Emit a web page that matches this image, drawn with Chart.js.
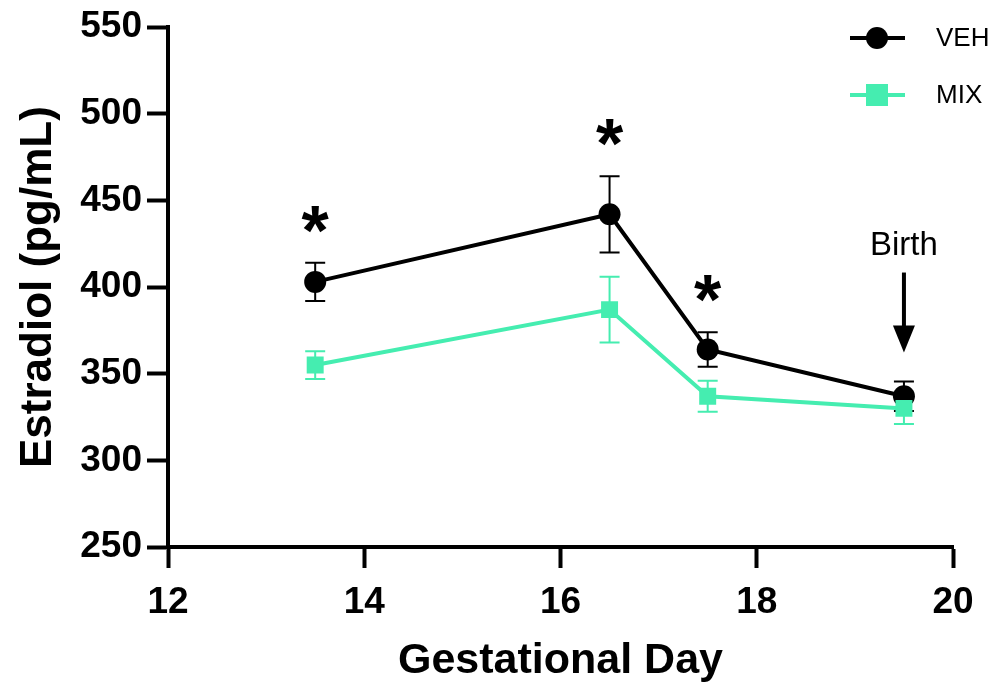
<!DOCTYPE html>
<html>
<head>
<meta charset="utf-8">
<script src="https://cdn.jsdelivr.net/npm/chart.js@4.4.0/dist/chart.umd.min.js"></script>
<style>
  html, body { margin: 0; padding: 0; background: #fff; }
  #wrap { width: 994px; height: 683px; }
</style>
</head>
<body>
<div id="wrap"><canvas id="chart" width="994" height="683"></canvas></div>
<script>
// 데이터
const days = [13.5, 16.5, 17.5, 19.5];
const vehMean = [403, 442, 364, 337];
const vehSem = [11, 22, 10, 8.5];
const mixMean = [355, 387, 337, 330];
const mixSem = [8, 19, 9, 9];
const sigDays = [13.5, 16.5, 17.5];
const birthDay = 19.5;
const xTicks = [12, 14, 16, 18, 20];
const yTicks = [250, 300, 350, 400, 450, 500, 550];

const FONT = "'Liberation Sans', Arial, sans-serif";
const MIX_COLOR = "#45EDB0";

// 에러바 + 별표 + Birth 화살표 + 범례
const extras = {
    id: "extras",
    beforeDatasetsDraw(chart) {
        const ctx = chart.ctx;
        const xs = chart.scales.x, ys = chart.scales.y;
        const groups = [
            { mean: mixMean, sem: mixSem, color: MIX_COLOR },
            { mean: vehMean, sem: vehSem, color: "#000" }
        ];
        ctx.save();
        groups.forEach(g => {
            ctx.strokeStyle = g.color;
            ctx.lineWidth = 2;
            days.forEach((d, i) => {
                const x = xs.getPixelForValue(d);
                const top = ys.getPixelForValue(g.mean[i] + g.sem[i]);
                const bot = ys.getPixelForValue(g.mean[i] - g.sem[i]);
                ctx.beginPath();
                ctx.moveTo(x, top); ctx.lineTo(x, bot);
                ctx.moveTo(x - 10, top); ctx.lineTo(x + 10, top);
                ctx.moveTo(x - 10, bot); ctx.lineTo(x + 10, bot);
                ctx.stroke();
            });
        });
        ctx.restore();
    },
    afterDatasetsDraw(chart) {
        const ctx = chart.ctx;
        const xs = chart.scales.x, ys = chart.scales.y;
        ctx.save();
        ctx.fillStyle = "#000";
        ctx.textAlign = "center";
        ctx.textBaseline = "alphabetic";
        ctx.font = "bold 70px " + FONT;
        sigDays.forEach(d => {
            const i = days.indexOf(d);
            const x = xs.getPixelForValue(d);
            const top = ys.getPixelForValue(vehMean[i] + vehSem[i]);
            ctx.fillText("*", x, top - 8);
        });

        // Birth 화살표
        const bi = days.indexOf(birthDay);
        const bx = xs.getPixelForValue(birthDay);
        const btop = ys.getPixelForValue(vehMean[bi] + vehSem[bi]);
        const tip = btop - 29;
        ctx.font = "33px " + FONT;
        ctx.textBaseline = "middle";
        ctx.fillText("Birth", bx, tip - 107);
        ctx.lineWidth = 4;
        ctx.strokeStyle = "#000";
        ctx.beginPath();
        ctx.moveTo(bx, tip - 80);
        ctx.lineTo(bx, tip - 24);
        ctx.stroke();
        ctx.beginPath();
        ctx.moveTo(bx - 11, tip - 27);
        ctx.lineTo(bx + 11, tip - 27);
        ctx.lineTo(bx, tip);
        ctx.closePath();
        ctx.fill();

        // 범례
        const items = [
            { label: "VEH", color: "#000", style: "circle", y: 38 },
            { label: "MIX", color: MIX_COLOR, style: "rect", y: 95 }
        ];
        ctx.font = "26px " + FONT;
        ctx.textAlign = "left";
        items.forEach(it => {
            ctx.strokeStyle = it.color;
            ctx.fillStyle = it.color;
            ctx.lineWidth = 4;
            ctx.beginPath();
            ctx.moveTo(850, it.y); ctx.lineTo(905, it.y);
            ctx.stroke();
            if (it.style === "circle") {
                ctx.beginPath();
                ctx.arc(877, it.y, 11, 0, Math.PI * 2);
                ctx.fill();
            } else {
                ctx.fillRect(866, it.y - 11, 22, 22);
            }
            ctx.fillStyle = "#000";
            ctx.fillText(it.label, 936, it.y + 1);
        });
        ctx.restore();
    }
};

const ctx = document.getElementById("chart").getContext("2d");
new Chart(ctx, {
    type: "scatter",
    data: {
        datasets: [
            {
                label: "MIX",
                data: days.map((d, i) => ({ x: d, y: mixMean[i] })),
                showLine: true,
                borderColor: MIX_COLOR,
                backgroundColor: MIX_COLOR,
                borderWidth: 4,
                pointStyle: "rect",
                pointRadius: 12,
                pointBorderWidth: 0
            },
            {
                label: "VEH",
                data: days.map((d, i) => ({ x: d, y: vehMean[i] })),
                showLine: true,
                borderColor: "#000",
                backgroundColor: "#000",
                borderWidth: 4,
                pointStyle: "circle",
                pointRadius: 11,
                pointBorderWidth: 0
            }
        ]
    },
    options: {
        responsive: false,
        animation: false,
        layout: { padding: { top: 26, right: 41, left: 0, bottom: 0 } },
        plugins: {
            legend: { display: false },
            tooltip: { enabled: false }
        },
        scales: {
            x: {
                type: "linear",
                min: 12,
                max: 20,
                afterBuildTicks: s => { s.ticks = xTicks.map(v => ({ value: v })); },
                afterFit: s => { s.height = 136; },
                ticks: {
                    color: "#000",
                    padding: 13,
                    font: { family: FONT, size: 37, weight: "bold" }
                },
                grid: { drawOnChartArea: false, tickLength: 21, tickWidth: 4, tickColor: "#000" },
                border: { color: "#000", width: 4 },
                title: {
                    display: true,
                    text: "Gestational Day",
                    color: "#000",
                    font: { family: FONT, size: 43, weight: "bold", lineHeight: 1 },
                    padding: { top: 0, bottom: 0 }
                }
            },
            y: {
                min: 250,
                max: 550,
                afterBuildTicks: s => { s.ticks = yTicks.map(v => ({ value: v })); },
                afterFit: s => { s.width = 168; },
                ticks: {
                    color: "#000",
                    padding: 5,
                    font: { family: FONT, size: 37, weight: "bold" }
                },
                grid: { drawOnChartArea: false, tickLength: 21, tickWidth: 4, tickColor: "#000" },
                border: { color: "#000", width: 4 },
                title: {
                    display: true,
                    text: "Estradiol (pg/mL)",
                    color: "#000",
                    font: { family: FONT, size: 44, weight: "bold", lineHeight: 1 },
                    padding: { top: 17, bottom: 0 }
                }
            }
        }
    },
    plugins: [extras]
});
</script>
</body>
</html>
